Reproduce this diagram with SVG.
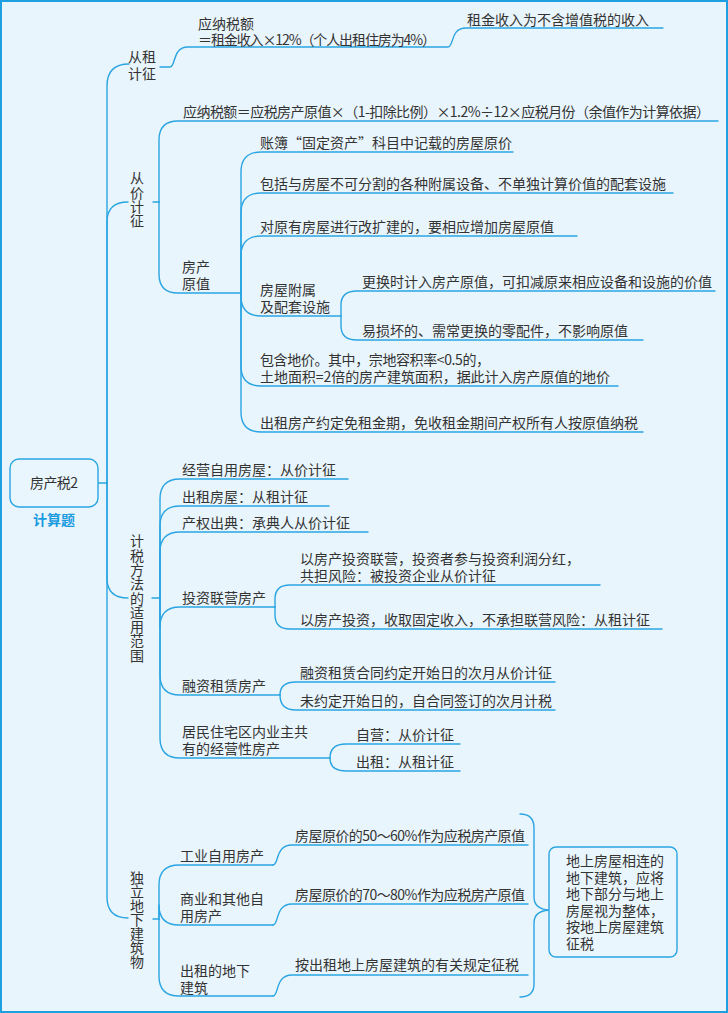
<svg xmlns="http://www.w3.org/2000/svg" width="728" height="1013" viewBox="0 0 728 1013">
<style>
.ln{fill:none;stroke:#2aa5e2;stroke-width:1.4;stroke-linecap:round;stroke-linejoin:round}
.t{font-family:"Noto Sans CJK SC","Noto Sans",sans-serif;font-size:14px;fill:#333}
.vt{font-family:"Noto Sans CJK SC","Noto Sans",sans-serif;font-size:14px;fill:#333;writing-mode:vertical-rl;text-orientation:upright}
.v{text-anchor:middle}
.bx{fill:#eaf6fd;stroke:#2aa5e2;stroke-width:1.4}
</style>
<rect x="1" y="1" width="726" height="1011" fill="#e9f5fc" stroke="#1d9fe0" stroke-width="2"/>

<g id="connectors">
  <path class="ln" d="M98,483 H107"/>
  <path class="ln" d="M107,483 V86 Q107,64 129,64"/>
  <path class="ln" d="M107,483 V222 Q107,202 128,202"/>
  <path class="ln" d="M107,483 V578 Q107,598 128,598"/>
  <path class="ln" d="M107,483 V897 Q107,918 128,918"/>

  <path class="ln" d="M160,67 H170 C176,67 172,47 188,47 H448 C454,47 450,28 466,28 H663"/>

  <path class="ln" d="M153,202 H159"/>
  <path class="ln" d="M159,202 V140 Q159,121 178,121 H718"/>
  <path class="ln" d="M159,202 V274 Q159,293 178,293 H241"/>

  <path class="ln" d="M241,293 V172 Q241,152 261,152 H513"/>
  <path class="ln" d="M241,293 V213 Q241,193 261,193 H673"/>
  <path class="ln" d="M241,293 V256 Q241,236 261,236 H577"/>
  <path class="ln" d="M241,293 V296 Q241,316 261,316 H341"/>
  <path class="ln" d="M241,293 V366 Q241,386 261,386 H618"/>
  <path class="ln" d="M241,293 V412 Q241,432 261,432 H643"/>

  <path class="ln" d="M341,316 V305 Q341,291 357,291 H715"/>
  <path class="ln" d="M341,316 V326 Q341,340 357,340 H643"/>

  <path class="ln" d="M152,598 H160"/>
  <path class="ln" d="M160,598 V499 Q160,479 180,479 H348"/>
  <path class="ln" d="M160,598 V526 Q160,506 180,506 H329"/>
  <path class="ln" d="M160,598 V552 Q160,532 180,532 H368"/>
  <path class="ln" d="M160,598 V627 Q160,607 180,607 H275"/>
  <path class="ln" d="M160,598 V675 Q160,695 180,695 H280"/>
  <path class="ln" d="M160,598 V738 Q160,758 180,758 H330"/>

  <path class="ln" d="M275,607 V599 Q275,585 290,585 H600"/>
  <path class="ln" d="M275,607 V615 Q275,629 290,629 H662"/>
  <path class="ln" d="M280,695 Q280,682 296,682 H555"/>
  <path class="ln" d="M280,695 Q280,710 296,710 H555"/>
  <path class="ln" d="M330,758 Q330,744 346,744 H460"/>
  <path class="ln" d="M330,758 Q330,771 346,771 H460"/>

  <path class="ln" d="M153,919 H159"/>
  <path class="ln" d="M159,919 V885 Q159,865 179,865 H273"/>
  <path class="ln" d="M159,919 V905 Q159,925 179,925 H273"/>
  <path class="ln" d="M159,919 V976 Q159,996 179,996 H273"/>
  <path class="ln" d="M273,865 C279,865 275,845 292,845 H528"/>
  <path class="ln" d="M273,925 C279,925 275,904 292,904 H528"/>
  <path class="ln" d="M273,996 C279,996 275,975 292,975 H528"/>

  <path class="ln" d="M520,814 Q534,814 534,828 V897 Q534,909 549,910 Q534,911 534,923 V984 Q534,997 520,997"/>
</g>

<g id="root">
  <rect class="bx" x="10" y="459" width="88" height="48" rx="9"/>
  <text class="t v" x="54" y="488" textLength="48" lengthAdjust="spacing">房产税2</text>
  <text x="54" y="525" text-anchor="middle" style="font-family:'Noto Sans CJK SC',sans-serif;font-size:14px;font-weight:bold;fill:#1a9be0">计算题</text>
</g>

<g id="n-rent">
  <text class="t" x="128" y="62">从租</text>
  <text class="t" x="128" y="79">计征</text>
</g>
<g id="n-rent-formula">
  <text class="t" x="198" y="28.5">应纳税额</text>
  <text class="t" x="198" y="45" textLength="238" lengthAdjust="spacing">＝租金收入×12%（个人出租住房为4%）</text>
</g>
<g id="n-rent-note">
  <text class="t" x="467" y="24.5">租金收入为不含增值税的收入</text>
</g>

<g id="n-value">
  <text class="vt" x="137" y="171" letter-spacing="0.2">从价计征</text>
</g>
<g id="n-value-formula">
  <text class="t" x="183" y="117" textLength="527" lengthAdjust="spacing">应纳税额＝应税房产原值×（1-扣除比例）×1.2%÷12×应税月份（余值作为计算依据）</text>
</g>
<g id="n-orig">
  <text class="t" x="182" y="272">房产</text>
  <text class="t" x="182" y="289">原值</text>
</g>
<g id="n-orig-1"><text class="t" x="260" y="148" textLength="252" lengthAdjust="spacing">账簿“固定资产”科目中记载的房屋原价</text></g>
<g id="n-orig-2"><text class="t" x="260" y="189">包括与房屋不可分割的各种附属设备、不单独计算价值的配套设施</text></g>
<g id="n-orig-3"><text class="t" x="260" y="232">对原有房屋进行改扩建的，要相应增加房屋原值</text></g>
<g id="n-orig-4">
  <text class="t" x="260" y="295">房屋附属</text>
  <text class="t" x="260" y="312">及配套设施</text>
</g>
<g id="n-attach-1"><text class="t" x="362" y="287">更换时计入房产原值，可扣减原来相应设备和设施的价值</text></g>
<g id="n-attach-2"><text class="t" x="362" y="336">易损坏的、需常更换的零配件，不影响原值</text></g>
<g id="n-orig-5">
  <text class="t" x="260" y="365" textLength="230" lengthAdjust="spacing">包含地价。其中，宗地容积率&lt;0.5的，</text>
  <text class="t" x="260" y="382" textLength="350" lengthAdjust="spacing">土地面积=2倍的房产建筑面积，据此计入房产原值的地价</text>
</g>
<g id="n-orig-6"><text class="t" x="260" y="428">出租房产约定免租金期，免收租金期间产权所有人按原值纳税</text></g>

<g id="n-scope">
  <text class="vt" x="137" y="534" letter-spacing="0.3">计税方法的适用范围</text>
</g>
<g id="n-scope-a"><text class="t" x="182" y="475">经营自用房屋：从价计征</text></g>
<g id="n-scope-b"><text class="t" x="182" y="502">出租房屋：从租计征</text></g>
<g id="n-scope-c"><text class="t" x="182" y="528">产权出典：承典人从价计征</text></g>
<g id="n-scope-d"><text class="t" x="182" y="603">投资联营房产</text></g>
<g id="n-scope-d1">
  <text class="t" x="300" y="564">以房产投资联营，投资者参与投资利润分红，</text>
  <text class="t" x="300" y="581">共担风险：被投资企业从价计征</text>
</g>
<g id="n-scope-d2"><text class="t" x="300" y="625">以房产投资，收取固定收入，不承担联营风险：从租计征</text></g>
<g id="n-scope-e"><text class="t" x="182" y="691">融资租赁房产</text></g>
<g id="n-scope-e1"><text class="t" x="300" y="678">融资租赁合同约定开始日的次月从价计征</text></g>
<g id="n-scope-e2"><text class="t" x="300" y="706">未约定开始日的，自合同签订的次月计税</text></g>
<g id="n-scope-f">
  <text class="t" x="182" y="737">居民住宅区内业主共</text>
  <text class="t" x="182" y="754">有的经营性房产</text>
</g>
<g id="n-scope-f1"><text class="t" x="356" y="740">自营：从价计征</text></g>
<g id="n-scope-f2"><text class="t" x="356" y="767">出租：从租计征</text></g>

<g id="n-under">
  <text class="vt" x="137" y="871">独立地下建筑物</text>
</g>
<g id="n-under-1"><text class="t" x="180" y="861">工业自用房产</text></g>
<g id="n-under-1a"><text class="t" x="295" y="841" textLength="230" lengthAdjust="spacing">房屋原价的50～60%作为应税房产原值</text></g>
<g id="n-under-2">
  <text class="t" x="180" y="904">商业和其他自</text>
  <text class="t" x="180" y="921">用房产</text>
</g>
<g id="n-under-2a"><text class="t" x="295" y="900" textLength="230" lengthAdjust="spacing">房屋原价的70～80%作为应税房产原值</text></g>
<g id="n-under-3">
  <text class="t" x="180" y="976">出租的地下</text>
  <text class="t" x="180" y="993">建筑</text>
</g>
<g id="n-under-3a"><text class="t" x="295" y="970">按出租地上房屋建筑的有关规定征税</text></g>
<g id="n-under-note">
  <rect class="bx" x="549" y="847" width="128" height="110" rx="7"/>
  <text class="t"><tspan x="566" y="866">地上房屋相连的</tspan><tspan x="566" y="882.6">地下建筑，应将</tspan><tspan x="566" y="899.2">地下部分与地上</tspan><tspan x="566" y="915.8">房屋视为整体，</tspan><tspan x="566" y="932.4">按地上房屋建筑</tspan><tspan x="566" y="949">征税</tspan></text>
</g>
</svg>
